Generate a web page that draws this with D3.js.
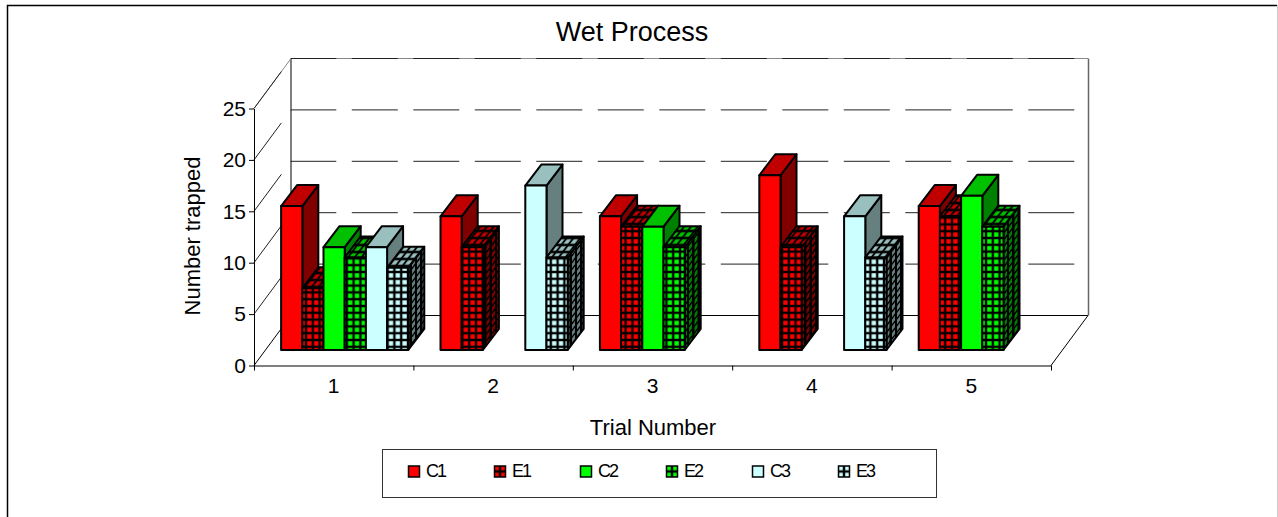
<!DOCTYPE html>
<html>
<head>
<meta charset="utf-8">
<script src="https://cdn.jsdelivr.net/npm/d3@7"></script>
<style>
  html, body { margin: 0; padding: 0; background: #fff; }
  svg { display: block; }
  text { font-family: "Liberation Sans", Arial, sans-serif; fill: #000; }
</style>
</head>
<body>
<script>
// data
const trials = ["1", "2", "3", "4", "5"];
const seriesNames = ["C1", "E1", "C2", "E2", "C3", "E3"];
const C1 = [14, 13, 13, 17, 14];
const E1 = [6, 10, 12, 10, 13];
const C2 = [10, null, 12, null, 15];
const E2 = [9, null, 10, null, 12];
const C3 = [10, 16, null, 13, null];
const E3 = [8, 9, null, 9, null];
const seriesValues = [C1, E1, C2, E2, C3, E3];
const yTicks = [0, 5, 10, 15, 20, 25];

// chart size
const chartW = 1278;
const chartH = 517;

// plot area
const plotLeft = 254, plotRight = 1051, plotTop = 108.5, plotBottom = 365.5;
// depth of the 3D box
const depthX = 37, depthY = -50;
// where the bars sit inside the depth
const barX = 11, barY = -15.5;
const barDepthX = 16, barDepthY = -21;

// colours [front, top, side]
const colors = {
  red: ["#ff0000", "#c00000", "#800000"],
  green: ["#00ff00", "#00c000", "#008000"],
  cyan: ["#ccffff", "#99bfbf", "#668080"]
};
const seriesColors = ["red", "red", "green", "green", "cyan", "cyan"];
const hatched = [false, true, false, true, false, true];

const svg = d3.select("body").append("svg").attr("width", chartW).attr("height", chartH);

// page frame
svg.append("rect").attr("width", chartW).attr("height", chartH).attr("fill", "#fff");
svg.append("path").attr("d", "M7.5,517V5.5H1277").attr("fill", "none").attr("stroke", "#000").attr("stroke-width", 1.5);
svg.append("line").attr("x1", 1277.5).attr("x2", 1277.5).attr("y1", 5).attr("y2", 517).attr("stroke", "#ccc");

// hatch patterns
const defs = svg.append("defs");
const pitch = 6.8;
const stepX = barDepthX / 3, stepY = barDepthY / 3;
const lineW = 1.2;
Object.keys(colors).forEach(function(name) {
  const faces = [
    { id: "front", w: pitch, h: pitch, t: "" },
    { id: "top", w: pitch, h: -stepY, t: "matrix(1,0," + (stepX / stepY) + ",1,0,0)" },
    { id: "side", w: stepX, h: pitch, t: "matrix(1," + (stepY / stepX) + ",0,1,0,0)" }
  ];
  faces.forEach(function(f, i) {
    const p = defs.append("pattern")
      .attr("id", name + "-" + f.id)
      .attr("patternUnits", "userSpaceOnUse")
      .attr("width", f.w)
      .attr("height", f.h);
    if (f.t) p.attr("patternTransform", f.t);
    p.append("rect").attr("width", f.w).attr("height", f.h).attr("fill", colors[name][i]);
    p.append("rect").attr("x", 0).attr("width", lineW).attr("height", f.h).attr("fill", "#000");
    p.append("rect").attr("y", 0).attr("width", f.w).attr("height", lineW).attr("fill", "#000");
    p.append("rect").attr("x", f.w - lineW).attr("width", lineW).attr("height", f.h).attr("fill", "#000");
    p.append("rect").attr("y", f.h - lineW).attr("width", f.w).attr("height", lineW).attr("fill", "#000");
  });
});

// scales
const xScale = d3.scaleBand().domain(trials).range([plotLeft, plotRight]);
const xInner = d3.scaleBand().domain(seriesNames).range([0, xScale.bandwidth()]).paddingOuter(0.76);
const xTicks = d3.scaleLinear().domain([0, trials.length]).range([plotLeft, plotRight]);
const yScale = d3.scaleLinear().domain([0, 25]).range([plotBottom, plotTop]);

// 3D box lines
const box = svg.append("g").attr("fill", "none");
const y0 = yScale(0), yMax = yScale(25);
box.append("path")
  .attr("d", "M" + plotLeft + "," + y0 + "l" + depthX + "," + depthY + "H" + (plotRight + depthX) + "L" + plotRight + "," + y0)
  .attr("stroke", "#000");
box.append("line")
  .attr("x1", plotLeft + depthX).attr("x2", plotLeft + depthX)
  .attr("y1", yMax + depthY).attr("y2", y0 + depthY)
  .attr("stroke", "#000");
box.append("line")
  .attr("x1", plotRight + depthX + 0.5).attr("x2", plotRight + depthX + 0.5)
  .attr("y1", yMax + depthY).attr("y2", y0 + depthY)
  .attr("stroke", "#666").attr("stroke-width", 1.5);
box.append("path")
  .attr("d", "M" + plotLeft + "," + yMax + "l" + depthX + "," + depthY + "H" + (plotRight + depthX))
  .attr("stroke", "#888");

// dashed gridlines
box.selectAll(".grid")
  .data(yTicks.filter(function(d) { return d > 0; }))
  .enter()
  .append("path")
  .attr("class", "grid")
  .attr("d", function(d) {
    const y = yScale(d);
    return "M" + plotLeft + "," + y + "l" + depthX + "," + depthY + "H" + (plotRight + depthX);
  })
  .attr("stroke", "#222")
  .attr("stroke-dasharray", "46 15.5");

// bars, left to right so that each one covers the side of the one before
const bars = svg.append("g").attr("stroke", "#000").attr("stroke-width", 2).attr("stroke-linejoin", "round");
trials.forEach(function(trial, t) {
  seriesNames.forEach(function(name, s) {
    const v = seriesValues[s][t];
    if (v === null) return;
    const x0 = xScale(trial) + xInner(name) + barX;
    const x1 = x0 + xInner.bandwidth();
    const yTop = yScale(v) + barY;
    const yBase = yScale(0) + barY;
    const c = seriesColors[s];
    const fill = function(face, i) {
      return hatched[s] ? "url(#" + c + "-" + face + ")" : colors[c][i];
    };
    bars.append("path")
      .attr("d", "M" + x1 + "," + yBase + "l" + barDepthX + "," + barDepthY + "V" + (yTop + barDepthY) + "L" + x1 + "," + yTop + "Z")
      .attr("fill", fill("side", 2));
    bars.append("path")
      .attr("d", "M" + x0 + "," + yTop + "l" + barDepthX + "," + barDepthY + "H" + (x1 + barDepthX) + "L" + x1 + "," + yTop + "Z")
      .attr("fill", fill("top", 1));
    bars.append("rect")
      .attr("x", x0)
      .attr("y", yTop)
      .attr("width", x1 - x0)
      .attr("height", yBase - yTop)
      .attr("fill", fill("front", 0));
  });
});

// axes
const yAxis = svg.append("g")
  .attr("transform", "translate(" + plotLeft + ",0)")
  .call(d3.axisLeft(yScale).tickValues(yTicks).tickSize(5).tickSizeOuter(0).tickPadding(3));
const xAxisTicks = svg.append("g")
  .attr("transform", "translate(0," + plotBottom + ")")
  .call(d3.axisBottom(xTicks).ticks(trials.length).tickSize(5).tickSizeOuter(0).tickFormat(""));
const xAxisLabels = svg.append("g")
  .attr("transform", "translate(0," + plotBottom + ")")
  .call(d3.axisBottom(xScale).tickSize(0).tickPadding(13));
xAxisLabels.select(".domain").remove();
svg.selectAll(".domain, .tick line").attr("stroke", "#000");
yAxis.selectAll("text").attr("font-size", 21).attr("font-family", "Liberation Sans").attr("fill", "#000");
xAxisLabels.selectAll("text").attr("font-size", 21).attr("font-family", "Liberation Sans").attr("fill", "#000");

// titles
svg.append("text").attr("x", 632).attr("y", 41).attr("text-anchor", "middle")
  .attr("font-size", 27).text("Wet Process");
svg.append("text").attr("x", 653).attr("y", 435).attr("text-anchor", "middle")
  .attr("font-size", 22).text("Trial Number");
svg.append("text").attr("transform", "translate(200,236) rotate(-90)").attr("text-anchor", "middle")
  .attr("font-size", 22).text("Number trapped");

// legend
const legendX = d3.scalePoint().domain(seriesNames).range([414, 844]);
svg.append("rect").attr("x", 382.5).attr("y", 449.5).attr("width", 554).attr("height", 48)
  .attr("fill", "#fff").attr("stroke", "#333");
const legend = svg.selectAll(".legend")
  .data(seriesNames)
  .enter()
  .append("g")
  .attr("class", "legend")
  .attr("transform", function(d) { return "translate(" + legendX(d) + ",471.5)"; });
legend.append("rect")
  .attr("x", -5.5).attr("y", -5.5).attr("width", 11).attr("height", 11)
  .attr("fill", function(d, i) {
    return hatched[i] ? "url(#" + seriesColors[i] + "-front)" : colors[seriesColors[i]][0];
  })
  .attr("stroke", "#000").attr("stroke-width", 1.5);
legend.append("text")
  .attr("x", 12).attr("y", 5)
  .attr("font-size", 18)
  .attr("letter-spacing", -2)
  .text(function(d) { return d; });
</script>
</body>
</html>
